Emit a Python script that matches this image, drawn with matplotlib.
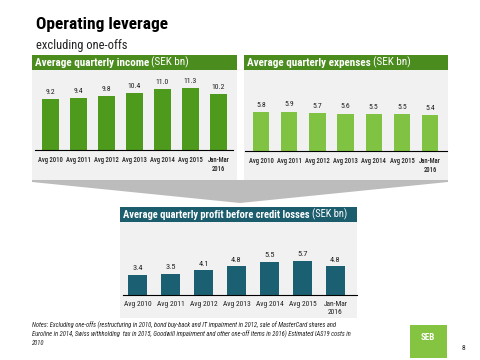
import matplotlib
matplotlib.use("Agg")
import matplotlib.pyplot as plt
from matplotlib.patches import Rectangle, Polygon

plt.rcParams['font.family'] = ['Roboto Condensed', 'DejaVu Sans']

# data
periods = ['Avg 2010', 'Avg 2011', 'Avg 2012', 'Avg 2013', 'Avg 2014', 'Avg 2015', 'Jan-Mar\n2016']
income = [9.2, 9.4, 9.8, 10.4, 11.0, 11.3, 10.2]
expenses = [5.8, 5.9, 5.7, 5.6, 5.5, 5.5, 5.4]
profit = [3.4, 3.5, 4.1, 4.8, 5.5, 5.7, 4.8]

W, H = 480, 360
fig = plt.figure(figsize=(4.8, 3.6), dpi=100)
fig.patch.set_facecolor('white')


def box(x0, y0, x1, y1):
    # pixel box (top-left origin) -> figure fraction rect
    return [x0 / W, 1 - y1 / H, (x1 - x0) / W, (y1 - y0) / H]


def rect(x0, y0, x1, y1, color):
    l, b, w, h = box(x0, y0, x1, y1)
    fig.patches.append(Rectangle((l, b), w, h, transform=fig.transFigure,
                                 facecolor=color, edgecolor='none', zorder=-1))


def header(x0, y0, x1, y1, color, bold, normal, size=8):
    rect(x0, y0, x1, y1, color)
    t = fig.text((x0 + 3) / W, 1 - (y0 + y1) / 2 / H, bold, color='white',
                 fontsize=size, fontweight='bold', va='center', ha='left')
    fig.canvas.draw()
    bb = t.get_window_extent()
    fig.text(bb.x1 / W + 2 / W, 1 - (y0 + y1) / 2 / H, normal, color='white',
             fontsize=size, va='center', ha='left')


def panel(axbox, vals, color, ymax, xlim, lblsize, valsize, weight):
    ax = fig.add_axes(box(*axbox))
    ax.patch.set_alpha(0)
    xs = range(len(vals))
    ax.bar(xs, vals, width=0.58, color=color, zorder=2)
    for x, v in zip(xs, vals):
        ax.text(x, v + ymax * 0.05, '{:.1f}'.format(v), ha='center', va='bottom',
                fontsize=valsize, color='#222222')
    ax.set_xlim(*xlim)
    ax.set_ylim(0, ymax)
    ax.set_yticks([])
    ax.set_xticks(list(xs))
    ax.set_xticklabels(periods, fontsize=lblsize, color='#222222', linespacing=1.3,
                       fontweight=weight)
    ax.tick_params(axis='x', length=0, pad=4)
    for s in ['top', 'right', 'left']:
        ax.spines[s].set_visible(False)
    ax.spines['bottom'].set_color('black')
    ax.spines['bottom'].set_linewidth(0.8)
    return ax


# title
fig.text(36 / W, 1 - 25 / H, 'Operating leverage', fontsize=12.5, fontweight='bold',
         va='center', color='black')
fig.text(36 / W, 1 - 45 / H, 'excluding one-offs', fontsize=9, va='center', color='#222222')

# panel backgrounds
rect(32, 70, 237, 180, '#f1f1f1')
rect(244, 70, 448, 180, '#f1f1f1')
rect(120, 222, 357, 318, '#f1f1f1')

header(32, 55, 237, 70, '#4b8c1e', 'Average quarterly income', '(SEK bn)')
header(244, 55, 448, 70, '#4b8c1e', 'Average quarterly expenses', '(SEK bn)')
header(120, 207, 357, 222, '#1b5c6d', 'Average quarterly profit before credit losses', '(SEK bn)', 7.6)

# funnel arrow
pts = [(32, 180), (448, 180), (448, 182), (240, 203), (32, 182)]
fig.patches.append(Polygon([(x / W, 1 - y / H) for x, y in pts], closed=True,
                           transform=fig.transFigure, facecolor='#bcbcbc',
                           edgecolor='none', zorder=-1))

panel((35, 70, 233, 150), income, '#4d9a1c', 14.5, (-0.55, 6.52), 4.8, 5.6, 'medium')
panel((245, 70, 447, 151), expenses, '#80c241', 12.1, (-0.57, 6.6), 4.8, 5.6, 'medium')
panel((123, 222, 357, 295), profit, '#1b6072', 12.2, (-0.44, 6.65), 5.4, 6, 'normal')

# notes
notes = ('Notes: Excluding one-offs (restructuring in 2010, bond buy-back and IT impairment in 2012, sale of MasterCard shares and\n'
         'Euroline in 2014, Swiss withholding  tax in 2015, Goodwill impairment and other one-off items in 2016) Estimated IAS19 costs in\n'
         '2010')
fig.text(32 / W, 1 - 321 / H, notes, fontsize=4.7, style='italic', va='top', ha='left',
         color='#222222', linespacing=1.35)

# logo
rect(410, 325, 447, 358, '#84c441')
fig.text(428 / W, 1 - 338 / H, 'SEB', fontsize=6.5, fontweight='bold', color='white',
         ha='center', va='center')
fig.text(464 / W, 1 - 348 / H, '8', fontsize=5.5, ha='center', va='center', color='#222222')

fig.savefig('out.png', dpi=100, facecolor='white')
